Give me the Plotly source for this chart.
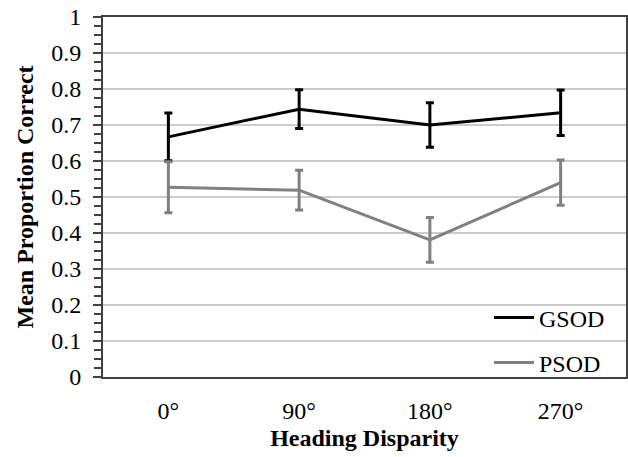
import plotly.graph_objects as go

categories = ["0°", "90°", "180°", "270°"]
gsod = [0.667, 0.744, 0.700, 0.734]
gsod_err = [0.066, 0.054, 0.062, 0.063]
psod = [0.527, 0.519, 0.381, 0.540]
psod_err = [0.071, 0.055, 0.062, 0.063]

FONT = "Liberation Serif, Times New Roman, serif"
L, R, T, B = 103, 2, 17, 80
W, H = 628, 457

fig = go.Figure()
fig.add_trace(go.Scatter(
    x=categories, y=gsod, name="GSOD", mode="lines",
    line=dict(color="#000000", width=3),
    error_y=dict(type="data", array=gsod_err, visible=True, color="#000000", thickness=3, width=4),
    legend="legend",
))
fig.add_trace(go.Scatter(
    x=categories, y=psod, name="PSOD", mode="lines",
    line=dict(color="#808080", width=3),
    error_y=dict(type="data", array=psod_err, visible=True, color="#808080", thickness=3, width=4),
    legend="legend2",
))

pw = W - L - R
ph = H - T - B

def px2x(p):
    return (p - L) / pw

def py2y(p):
    return (H - B - p) / ph

legend_common = dict(
    font=dict(family=FONT, size=24, color="#000000"),
    bgcolor="rgba(0,0,0,0)", borderwidth=0,
    xanchor="left", yanchor="middle", itemwidth=40,
)

fig.update_layout(
    width=W, height=H,
    margin=dict(l=L, r=R, t=T, b=B, autoexpand=False),
    paper_bgcolor="white", plot_bgcolor="white",
    font=dict(family=FONT, color="#000000"),
    showlegend=True,
    legend=dict(x=px2x(489), y=py2y(318), **legend_common),
    legend2=dict(x=px2x(489), y=py2y(363), **legend_common),
    xaxis=dict(
        type="category", range=[-0.5, 3.5], automargin=False,
        showline=True, linecolor="#404040", linewidth=2, mirror=True,
        showgrid=False, ticks="", ticklabelstandoff=11,
        tickfont=dict(family=FONT, size=24, color="#000000"),
        title=dict(text="<b>Heading Disparity</b>", font=dict(family=FONT, size=24, color="#000000"), standoff=6),
    ),
    yaxis=dict(
        range=[0, 1], dtick=0.1, tickformat="~g", automargin=False,
        showline=True, linecolor="#404040", linewidth=2, mirror=True,
        showgrid=True, gridcolor="#cccccc", gridwidth=1.5,
        ticks="outside", ticklen=8, tickcolor="#404040", tickwidth=1.5,
        ticklabelstandoff=7,
        minor=dict(dtick=0.025, ticks="outside", ticklen=7, tickcolor="#404040", tickwidth=1.5, showgrid=False),
        tickfont=dict(family=FONT, size=24, color="#000000"),
        zeroline=False,
        title=dict(text="<b>Mean Proportion Correct</b>", font=dict(family=FONT, size=24, color="#000000"), standoff=11),
    ),
)

fig.write_html("out.html", config={"displayModeBar": False},
               post_script="document.body.style.margin='0';")
